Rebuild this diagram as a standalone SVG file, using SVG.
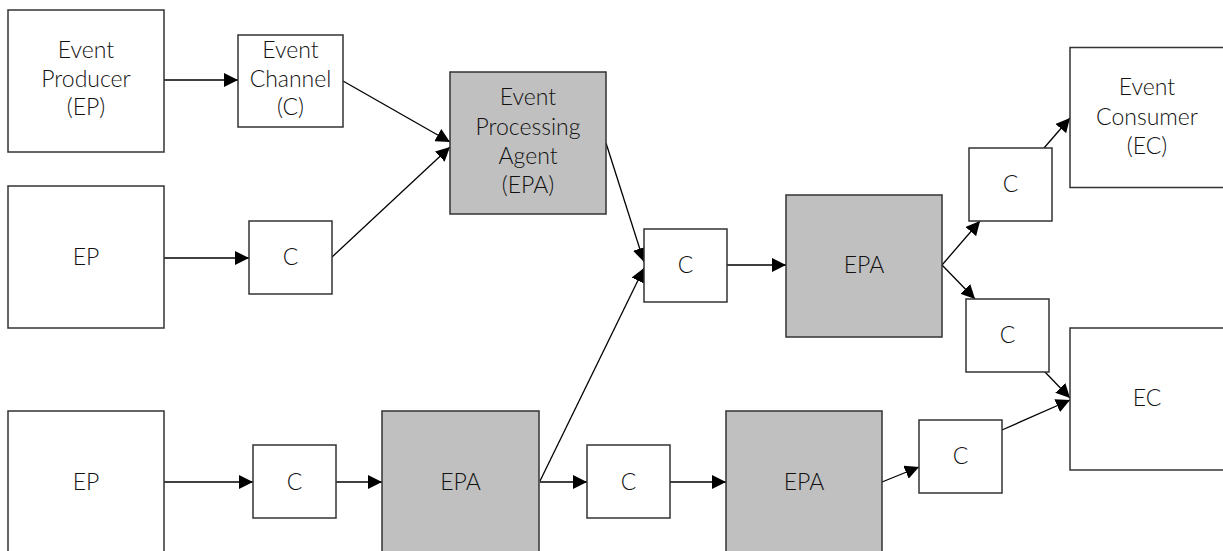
<svg xmlns="http://www.w3.org/2000/svg" width="1223" height="551" viewBox="0 0 1223 551">
  <style>
    .box { fill: #ffffff; stroke: #333333; stroke-width: 1.5; }
    .agent { fill: #c0c0c0; stroke: #333333; stroke-width: 1.5; }
    .lbl { font-family: Lato, "Liberation Sans", sans-serif; font-weight: 300; font-size: 23px; fill: #111111; text-anchor: middle; }
    .edge { stroke: #000000; stroke-width: 1.3; fill: none; marker-end: url(#arrow); }
  </style>
  <defs>
    <marker id="arrow" markerUnits="userSpaceOnUse" markerWidth="15" markerHeight="14" refX="14" refY="7" orient="auto">
      <path d="M0,0 L14,7 L0,14 Z" fill="#000000"/>
    </marker>
  </defs>
  <rect width="1223" height="551" fill="#ffffff"/>

  <!-- connectors -->
  <g id="connectors">
    <line class="edge" x1="164" y1="80" x2="238" y2="80"/>
    <line class="edge" x1="343" y1="81" x2="450" y2="142"/>
    <line class="edge" x1="332" y1="257" x2="450" y2="147"/>
    <line class="edge" x1="164" y1="258" x2="249" y2="258"/>
    <line class="edge" x1="606" y1="143" x2="644" y2="262"/>
    <line class="edge" x1="540" y1="481" x2="644" y2="268"/>
    <line class="edge" x1="727" y1="265" x2="786" y2="265"/>
    <line class="edge" x1="942" y1="265" x2="980" y2="221"/>
    <line class="edge" x1="1044" y1="148" x2="1070" y2="118"/>
    <line class="edge" x1="942" y1="265" x2="975" y2="299"/>
    <line class="edge" x1="1045" y1="372" x2="1070" y2="398"/>
    <line class="edge" x1="1002" y1="430" x2="1070" y2="400"/>
    <line class="edge" x1="882" y1="482" x2="919" y2="467"/>
    <line class="edge" x1="164" y1="482" x2="253" y2="482"/>
    <line class="edge" x1="336" y1="482" x2="382" y2="482"/>
    <line class="edge" x1="540" y1="482" x2="587" y2="482"/>
    <line class="edge" x1="670" y1="482" x2="726" y2="482"/>
  </g>

  <!-- producers -->
  <g id="ep1">
    <rect class="box" x="8" y="10" width="156" height="142"/>
    <text class="lbl" x="86" y="58">Event</text>
    <text class="lbl" x="86" y="87">Producer</text>
    <text class="lbl" x="86" y="115">(EP)</text>
  </g>
  <g id="ep2">
    <rect class="box" x="8" y="186" width="156" height="142"/>
    <text class="lbl" x="86" y="265">EP</text>
  </g>
  <g id="ep3">
    <rect class="box" x="8" y="411" width="156" height="142"/>
    <text class="lbl" x="86" y="490">EP</text>
  </g>

  <!-- channels -->
  <g id="channel1">
    <rect class="box" x="238" y="35" width="105" height="92"/>
    <text class="lbl" x="290.5" y="58">Event</text>
    <text class="lbl" x="290.5" y="87">Channel</text>
    <text class="lbl" x="290.5" y="115">(C)</text>
  </g>
  <g id="channel2">
    <rect class="box" x="249" y="221" width="83" height="73"/>
    <text class="lbl" x="290.5" y="265">C</text>
  </g>
  <g id="channel3">
    <rect class="box" x="644" y="229" width="83" height="73"/>
    <text class="lbl" x="685.5" y="273">C</text>
  </g>
  <g id="channel4">
    <rect class="box" x="969" y="148" width="83" height="73"/>
    <text class="lbl" x="1010.5" y="192">C</text>
  </g>
  <g id="channel5">
    <rect class="box" x="966" y="299" width="83" height="73"/>
    <text class="lbl" x="1007.5" y="343">C</text>
  </g>
  <g id="channel6">
    <rect class="box" x="919" y="420" width="83" height="73"/>
    <text class="lbl" x="960.5" y="464">C</text>
  </g>
  <g id="channel7">
    <rect class="box" x="253" y="445" width="83" height="73"/>
    <text class="lbl" x="294.5" y="490">C</text>
  </g>
  <g id="channel8">
    <rect class="box" x="587" y="445" width="83" height="73"/>
    <text class="lbl" x="628.5" y="490">C</text>
  </g>

  <!-- processing agents -->
  <g id="epa1">
    <rect class="agent" x="450" y="72" width="156" height="142"/>
    <text class="lbl" x="528" y="105">Event</text>
    <text class="lbl" x="528" y="135">Processing</text>
    <text class="lbl" x="528" y="164">Agent</text>
    <text class="lbl" x="528" y="193">(EPA)</text>
  </g>
  <g id="epa2">
    <rect class="agent" x="786" y="195" width="156" height="142"/>
    <text class="lbl" x="864" y="273">EPA</text>
  </g>
  <g id="epa3">
    <rect class="agent" x="382" y="411" width="157" height="142"/>
    <text class="lbl" x="460.5" y="490">EPA</text>
  </g>
  <g id="epa4">
    <rect class="agent" x="726" y="411" width="156" height="142"/>
    <text class="lbl" x="804" y="490">EPA</text>
  </g>

  <!-- consumers -->
  <g id="ec1">
    <rect class="box" x="1070" y="47.5" width="156" height="140"/>
    <text class="lbl" x="1147" y="95">Event</text>
    <text class="lbl" x="1147" y="125">Consumer</text>
    <text class="lbl" x="1147" y="154">(EC)</text>
  </g>
  <g id="ec2">
    <rect class="box" x="1070" y="328" width="156" height="142"/>
    <text class="lbl" x="1147" y="406">EC</text>
  </g>
</svg>
